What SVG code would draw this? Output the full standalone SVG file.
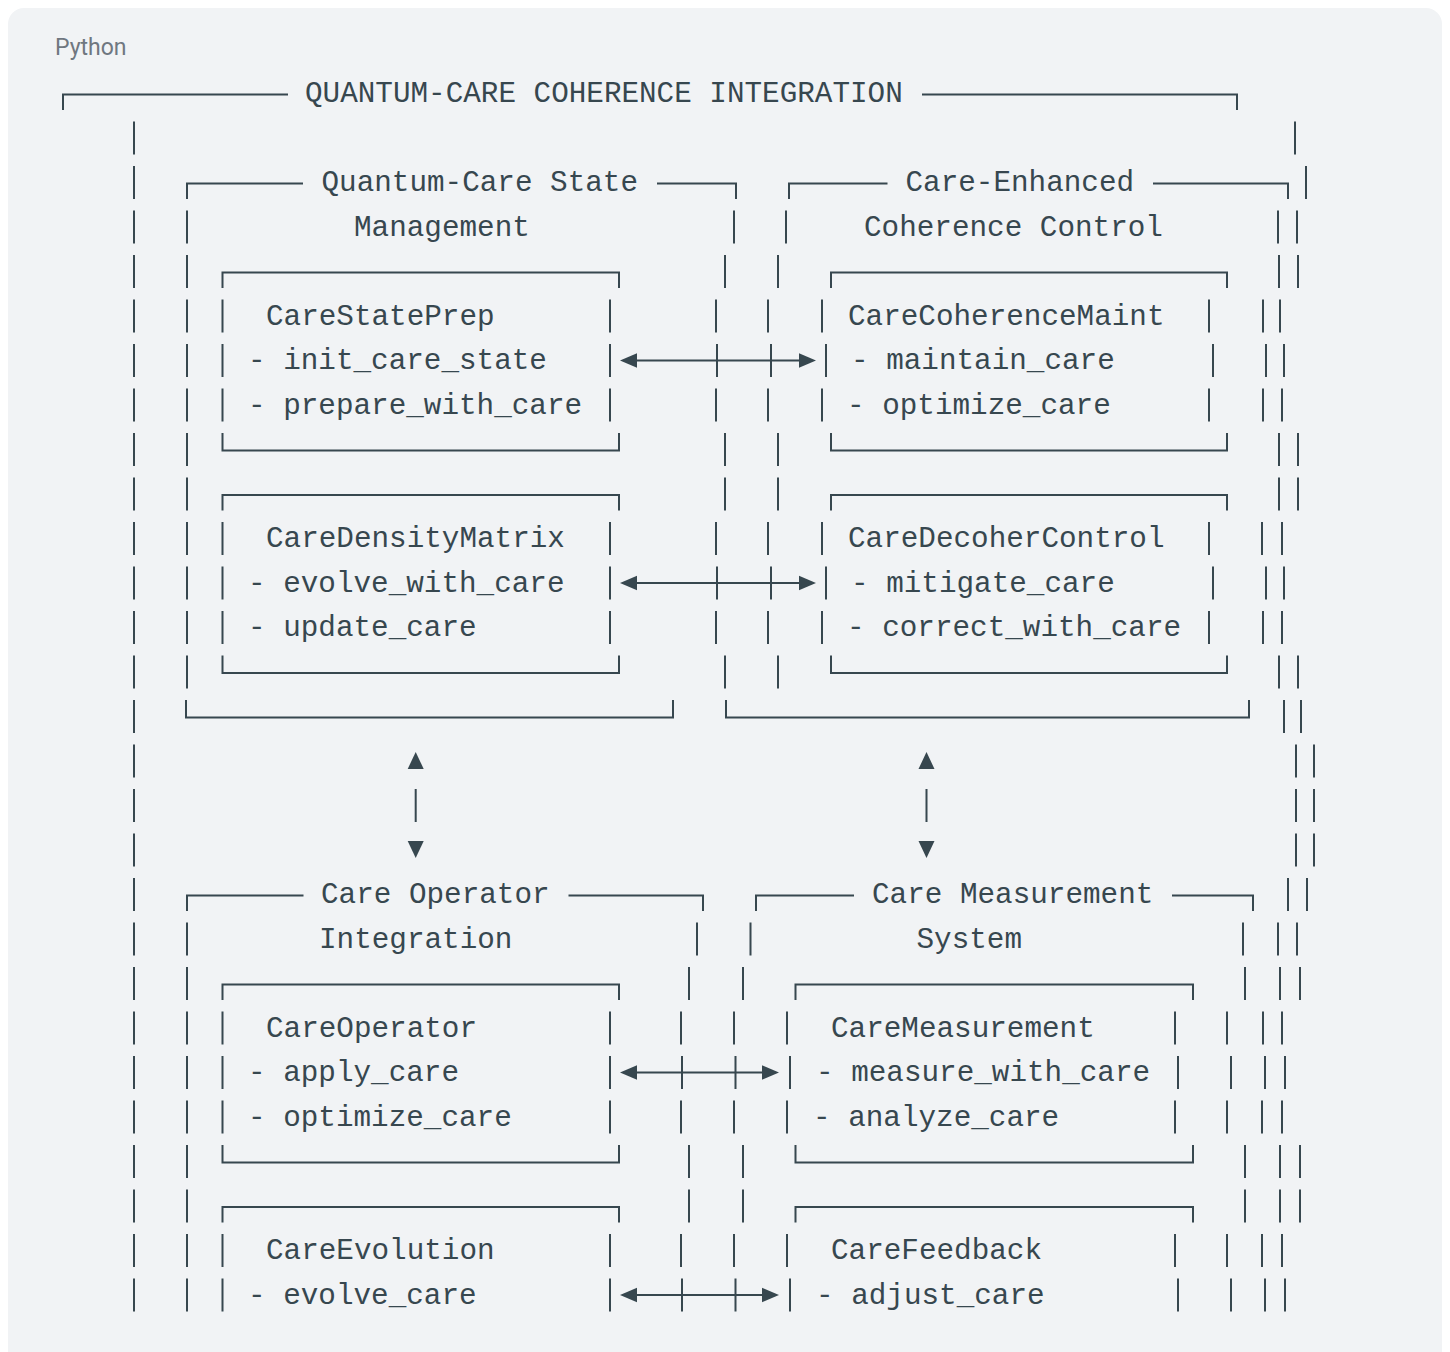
<svg xmlns="http://www.w3.org/2000/svg" width="1450" height="1352" viewBox="0 0 1450 1352">
<defs>
<style>
.t{font-family:"Liberation Mono","DejaVu Sans Mono",monospace;font-size:29.3px;fill:#37474f;white-space:pre}
.b{fill:none;stroke:#37474f;stroke-width:2}
.c{fill:none;stroke:#37474f;stroke-width:2}
.ah{fill:#37474f;stroke:none}
.lang{font-family:Roboto,"Liberation Sans",sans-serif;font-size:23px;fill:#6f7780}
</style>
</defs>
<rect x="0" y="0" width="1450" height="1352" fill="#ffffff"/>
<rect x="8" y="8" width="1434" height="1360" rx="16" fill="#f1f3f5"/>
<text class="lang" x="55" y="55">Python</text>

<g id="outer">
<path class="b" d="M63,110V94.5H288 M922,94.5H1237V110
M134,121.5V154.5 M134,166V199 M134,210.5V243.5 M134,255V288 M134,299.5V332.5 M134,344V377 M134,388.5V421.5 M134,433V466 M134,477.5V510.5 M134,522V555 M134,566.5V599.5 M134,611V644 M134,655.5V688.5 M134,700V733 M134,744.5V777.5 M134,789V822 M134,833.5V866.5 M134,878V911 M134,922.5V955.5 M134,967V1000 M134,1011.5V1044.5 M134,1056V1089 M134,1100.5V1133.5 M134,1145V1178 M134,1189.5V1222.5 M134,1234V1267 M134,1278.5V1311.5
M1295,121.5V154.5
M1306,166V199
M1278,210.5V243.5 M1297,210.5V243.5
M1279,255V288 M1298,255V288
M1263,299.5V332.5 M1280,299.5V332.5
M1266,344V377 M1284,344V377
M1263,388.5V421.5 M1282,388.5V421.5
M1279,433V466 M1298,433V466
M1279,477.5V510.5 M1298,477.5V510.5
M1262,522V555 M1282,522V555
M1266,566.5V599.5 M1284,566.5V599.5
M1263,611V644 M1282,611V644
M1279,655.5V688.5 M1298,655.5V688.5
M1284,700V733 M1301,700V733
M1296,744.5V777.5 M1314,744.5V777.5
M1296,789V822 M1314,789V822
M1296,833.5V866.5 M1314,833.5V866.5
M1288,878V911 M1307,878V911
M1278,922.5V955.5 M1297,922.5V955.5
M1280,967V1000 M1300,967V1000
M1263,1011.5V1044.5 M1282,1011.5V1044.5
M1265,1056V1089 M1285,1056V1089
M1262,1100.5V1133.5 M1282,1100.5V1133.5
M1280,1145V1178 M1300,1145V1178
M1280,1189.5V1222.5 M1300,1189.5V1222.5
M1262,1234V1267 M1282,1234V1267
M1265,1278.5V1311.5 M1285,1278.5V1311.5"/>
<text class="t" x="305" y="102">QUANTUM-CARE COHERENCE INTEGRATION</text>
</g>

<g id="state-management">
<path class="b" d="M187,199V183.5H303 M657,183.5H736V199
M187,210.5V243.5 M187,255V288 M187,299.5V332.5 M187,344V377 M187,388.5V421.5 M187,433V466 M187,477.5V510.5 M187,522V555 M187,566.5V599.5 M187,611V644 M187,655.5V688.5
M734,210.5V243.5 M725,255V288 M716,299.5V332.5 M717,344V377 M716,388.5V421.5 M725,433V466 M725,477.5V510.5 M716,522V555 M717,566.5V599.5 M716,611V644 M725,655.5V688.5
M186,700V717.5H673V700"/>
<text class="t" x="321.5" y="191">Quantum-Care State</text>
<text class="t" x="354" y="235.5">Management</text>
</g>

<g id="coherence-control">
<path class="b" d="M789,199V183.5H887.5 M1153,183.5H1288V199
M786,210.5V243.5 M778,255V288 M768,299.5V332.5 M771,344V377 M768,388.5V421.5 M778,433V466 M778,477.5V510.5 M768,522V555 M771,566.5V599.5 M768,611V644 M778,655.5V688.5
M726,700V717.5H1249V700"/>
<text class="t" x="905.5" y="191">Care-Enhanced</text>
<text class="t" x="864" y="235.5">Coherence Control</text>
</g>

<g id="operator-integration">
<path class="b" d="M187,911V895.5H303.5 M568.5,895.5H703V911
M187,922.5V955.5 M187,967V1000 M187,1011.5V1044.5 M187,1056V1089 M187,1100.5V1133.5 M187,1145V1178 M187,1189.5V1222.5 M187,1234V1267 M187,1278.5V1311.5
M697,922.5V955.5 M689,967V1000 M681,1011.5V1044.5 M682,1056V1089 M681,1100.5V1133.5 M689,1145V1178 M689,1189.5V1222.5 M681,1234V1267 M682,1278.5V1311.5"/>
<text class="t" x="321" y="903">Care Operator</text>
<text class="t" x="319" y="947.5">Integration</text>
</g>

<g id="measurement-system">
<path class="b" d="M756,911V895.5H854 M1172,895.5H1253V911
M750.5,922.5V955.5 M743,967V1000 M734,1011.5V1044.5 M735.5,1056V1089 M734,1100.5V1133.5 M743,1145V1178 M743,1189.5V1222.5 M734,1234V1267 M735.5,1278.5V1311.5
M1243,922.5V955.5 M1245,967V1000 M1227,1011.5V1044.5 M1231,1056V1089 M1227,1100.5V1133.5 M1245,1145V1178 M1245,1189.5V1222.5 M1227,1234V1267 M1231,1278.5V1311.5"/>
<text class="t" x="872" y="903">Care Measurement</text>
<text class="t" x="916.5" y="947.5">System</text>
</g>

<g id="care-state-prep">
<path class="b" d="M222.5,288V272.5H619V288 M222.5,299.5V332.5 M222.5,344V377 M222.5,388.5V421.5 M610,299.5V332.5 M610,344V377 M610,388.5V421.5 M222.5,433V450.5H619V433"/>
<text class="t" x="266" y="324.5">CareStatePrep</text>
<text class="t" x="248" y="369">- init_care_state</text>
<text class="t" x="248" y="413.5">- prepare_with_care</text>
</g>

<g id="care-density-matrix">
<path class="b" d="M222.5,510.5V495H619V510.5 M222.5,522V555 M222.5,566.5V599.5 M222.5,611V644 M610,522V555 M610,566.5V599.5 M610,611V644 M222.5,655.5V673H619V655.5"/>
<text class="t" x="266" y="547">CareDensityMatrix</text>
<text class="t" x="248" y="591.5">- evolve_with_care</text>
<text class="t" x="248" y="636">- update_care</text>
</g>

<g id="care-coherence-maint">
<path class="b" d="M831,288V272.5H1227V288 M822,299.5V332.5 M826,344V377 M822,388.5V421.5 M1209,299.5V332.5 M1213,344V377 M1209,388.5V421.5 M831,433V450.5H1227V433"/>
<text class="t" x="848" y="324.5">CareCoherenceMaint</text>
<text class="t" x="851" y="369">- maintain_care</text>
<text class="t" x="847" y="413.5">- optimize_care</text>
</g>

<g id="care-decoher-control">
<path class="b" d="M831,510.5V495H1227V510.5 M822,522V555 M826,566.5V599.5 M822,611V644 M1209,522V555 M1213,566.5V599.5 M1209,611V644 M831,655.5V673H1227V655.5"/>
<text class="t" x="848" y="547">CareDecoherControl</text>
<text class="t" x="851" y="591.5">- mitigate_care</text>
<text class="t" x="847" y="636">- correct_with_care</text>
</g>

<g id="care-operator">
<path class="b" d="M222.5,1000V984.5H619V1000 M222.5,1011.5V1044.5 M222.5,1056V1089 M222.5,1100.5V1133.5 M610,1011.5V1044.5 M610,1056V1089 M610,1100.5V1133.5 M222.5,1145V1162.5H619V1145"/>
<text class="t" x="266" y="1036.5">CareOperator</text>
<text class="t" x="248" y="1081">- apply_care</text>
<text class="t" x="248" y="1125.5">- optimize_care</text>
</g>

<g id="care-evolution">
<path class="b" d="M222.5,1222.5V1207H619V1222.5 M222.5,1234V1267 M222.5,1278.5V1311.5 M610,1234V1267 M610,1278.5V1311.5"/>
<text class="t" x="266" y="1259">CareEvolution</text>
<text class="t" x="248" y="1303.5">- evolve_care</text>
</g>

<g id="care-measurement">
<path class="b" d="M795.5,1000V984.5H1193V1000 M787,1011.5V1044.5 M790,1056V1089 M787,1100.5V1133.5 M1175,1011.5V1044.5 M1178,1056V1089 M1175,1100.5V1133.5 M795.5,1145V1162.5H1193V1145"/>
<text class="t" x="831" y="1036.5">CareMeasurement</text>
<text class="t" x="816" y="1081">- measure_with_care</text>
<text class="t" x="813" y="1125.5">- analyze_care</text>
</g>

<g id="care-feedback">
<path class="b" d="M795.5,1222.5V1207H1193V1222.5 M787,1234V1267 M790,1278.5V1311.5 M1175,1234V1267 M1178,1278.5V1311.5"/>
<text class="t" x="831" y="1259">CareFeedback</text>
<text class="t" x="816" y="1303.5">- adjust_care</text>
</g>

<g id="connectors">
<path class="c" d="M630,360.5H806 M630,583H806 M630,1072.5H769 M630,1295H769 M415.7,789V822 M926.5,789V822"/>
<polygon class="ah" points="620,360.5 637,353.3 637,367.7"/>
<polygon class="ah" points="816,360.5 799,353.3 799,367.7"/>
<polygon class="ah" points="620,583 637,575.8 637,590.2"/>
<polygon class="ah" points="816,583 799,575.8 799,590.2"/>
<polygon class="ah" points="620,1072.5 637,1065.3 637,1079.7"/>
<polygon class="ah" points="779,1072.5 762,1065.3 762,1079.7"/>
<polygon class="ah" points="620,1295 637,1287.8 637,1302.2"/>
<polygon class="ah" points="779,1295 762,1287.8 762,1302.2"/>
<polygon class="ah" points="415.7,752 407.7,769 423.7,769"/>
<polygon class="ah" points="407.7,841 423.7,841 415.7,858"/>
<polygon class="ah" points="926.5,752 918.5,769 934.5,769"/>
<polygon class="ah" points="918.5,841 934.5,841 926.5,858"/>
</g>
</svg>
